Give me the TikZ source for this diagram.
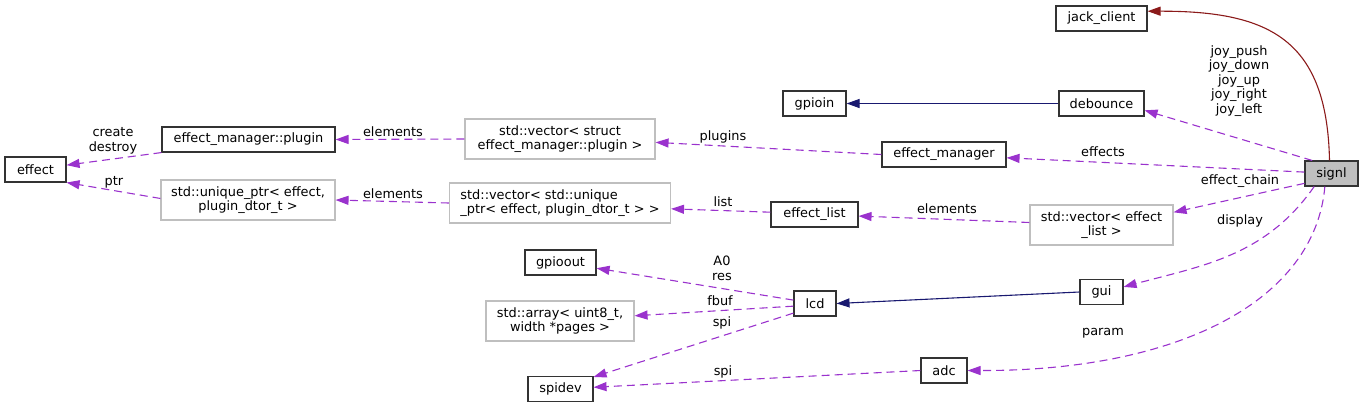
\documentclass[tikz,border=0pt]{standalone}
\usepackage{fontspec}
\setmainfont{DejaVu Sans}
\usetikzlibrary{arrows.meta}
\definecolor{edgep}{HTML}{9A32CD}
\definecolor{edger}{HTML}{8B1A1A}
\definecolor{edgeb}{HTML}{191970}
\definecolor{boxg}{HTML}{BFBFBF}
\definecolor{curfill}{HTML}{BFBFBF}
\begin{document}
\begin{tikzpicture}[x=1pt,y=-1pt,
  every node/.style={font=\fontsize{12.9}{14.5}\selectfont},
  box/.style={draw=black!80, line width=1.1pt, minimum height=25pt, inner sep=0pt},
  gbox/.style={draw=boxg, line width=1.1pt, minimum height=40pt, inner sep=0pt, align=center},
  dep/.style={draw=edgep, line width=1.1pt, dash pattern=on 8pt off 5pt, -{Triangle[length=13pt,width=9pt]}},
  inh/.style={draw=edgeb, line width=1.1pt, -{Triangle[length=13pt,width=9pt]}},
  assoc/.style={draw=edger, line width=1.1pt, -{Triangle[length=13pt,width=9pt]}},
  lbl/.style={inner sep=0pt, align=center}]
\useasboundingbox (0,0) rectangle (1364,408);

% nodes
\node[box, minimum width=91pt] (jack) at (1101.5,18.5) {jack\_client};
\node[box, minimum width=63pt] (gpioin) at (814.5,103.5) {gpioin};
\node[box, minimum width=85pt] (debounce) at (1101.5,103.5) {debounce};
\node[box, minimum width=173pt] (plug) at (248.5,139.5) {effect\_manager::plugin};
\node[gbox, minimum width=190pt] (vplug) at (560,139) {std::vector< struct\\ effect\_manager::plugin >};
\node[box, minimum width=124pt] (em) at (944,154.5) {effect\_manager};
\node[box, minimum width=53pt, fill=curfill] (signl) at (1331.5,173.5) {signl};
\node[box, minimum width=61pt] (effect) at (35.5,169.5) {effect};
\node[gbox, minimum width=174pt] (uptr) at (248,200) {std::unique\_ptr< effect,\\ plugin\_dtor\_t >};
\node[gbox, minimum width=221pt, align=left] (vuptr) at (560,203) {std::vector< std::unique\\\_ptr< effect, plugin\_dtor\_t > >};
\node[box, minimum width=87pt] (elist) at (814.5,214.5) {effect\_list};
\node[gbox, minimum width=143pt] (vel) at (1101.5,225) {std::vector< effect\\\_list >};
\node[box, minimum width=71pt] (gout) at (560.5,262.5) {gpioout};
\node[box, minimum width=42pt] (lcd) at (815,303.5) {lcd};
\node[box, minimum width=43pt] (gui) at (1101.5,292) {gui};
\node[gbox, minimum width=148pt] (arr) at (560,321) {std::array< uint8\_t,\\ width *pages >};
\node[box, minimum width=46pt] (adc) at (944,370.5) {adc};
\node[box, minimum width=65pt] (spidev) at (560.5,389) {spidev};

% solid edges
\draw[assoc] ([xshift=-2pt]signl.north) .. controls (1327,40) and (1270,11) .. (jack.9);
\draw[inh] (debounce.west) -- (gpioin.east);
\draw[inh] (gui.west) -- (lcd.east);

% dashed edges
\draw[dep] (signl.146) -- (debounce.-9);
\draw[dep] (signl.177) -- (em.-3);
\draw[dep] (signl.200) -- (vel.10);
\draw[dep] (signl.217) to[out=235,in=15] (gui.13);
\draw[dep] (signl.243) .. controls (1315,300) and (1180,371) .. (adc.east);
\draw[dep] (em.west) -- (vplug.-2);
\draw[dep] (vplug.west) -- (plug.east);
\draw[dep] (plug.south west) -- (effect.8);
\draw[dep] (uptr.179) -- (effect.south east);
\draw[dep] (vuptr.west) -- (uptr.east);
\draw[dep] (elist.177) -- (vuptr.-3);
\draw[dep] (vel.178) -- (elist.-2);
\draw[dep] (lcd.171) -- (gout.-9);
\draw[dep] (lcd.187) -- (arr.4);
\draw[dep] (lcd.204) -- (spidev.20);
\draw[dep] (adc.west) -- (spidev.3);

% labels
\node[lbl] (ljoy) at (1239,81) {joy\_push\\joy\_down\\joy\_up\\joy\_right\\joy\_left};
\node[lbl] (leff) at (1103,152) {effects};
\node[lbl] (lchain) at (1240,181) {effect\_chain};
\node[lbl] (ldisp) at (1240,221) {display};
\node[lbl] (lparam) at (1103,333) {param};
\node[lbl] (lplugins) at (723,137) {plugins};
\node[lbl] (lel1) at (393,132) {elements};
\node[lbl] (lcd1) at (113,141) {create\\destroy};
\node[lbl] (lptr) at (114,182) {ptr};
\node[lbl] (lel2) at (393,194) {elements};
\node[lbl] (llist) at (723,202) {list};
\node[lbl] (lel3) at (947,209) {elements};
\node[lbl] (la0) at (722,268.5) {A0\\res};
\node[lbl] (lfbuf) at (720,301) {fbuf};
\node[lbl] (lspi1) at (722,323) {spi};
\node[lbl] (lspi2) at (723,372) {spi};
\end{tikzpicture}
\end{document}
